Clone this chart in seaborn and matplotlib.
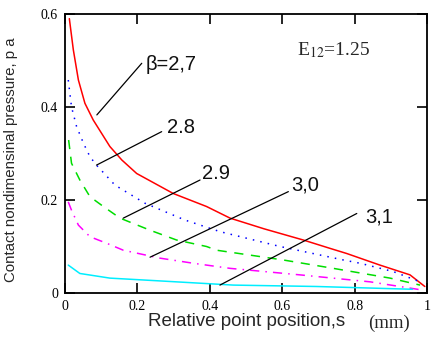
import matplotlib
matplotlib.use("Agg")
import matplotlib.pyplot as plt
import seaborn as sns
import pandas as pd

# Data
s_27 = [0.012, 0.023, 0.037, 0.055, 0.078, 0.124, 0.157, 0.198, 0.299, 0.391, 0.456, 0.55, 0.658, 0.732, 0.778, 0.870, 0.953, 0.994]
p_27 = [0.590, 0.523, 0.458, 0.408, 0.372, 0.315, 0.286, 0.257, 0.214, 0.186, 0.161, 0.138, 0.114, 0.096, 0.085, 0.060, 0.039, 0.014]

s_28 = [0.009, 0.018, 0.032, 0.051, 0.069, 0.087, 0.138, 0.221, 0.331, 0.428, 0.594, 0.769, 0.815, 0.907, 0.981]
p_28 = [0.458, 0.400, 0.358, 0.322, 0.293, 0.275, 0.232, 0.193, 0.157, 0.132, 0.100, 0.071, 0.064, 0.046, 0.024]

s_29 = [0.010, 0.018, 0.041, 0.069, 0.106, 0.152, 0.235, 0.308, 0.391, 0.419, 0.603, 0.741, 0.898, 0.981]
p_29 = [0.329, 0.279, 0.243, 0.207, 0.186, 0.161, 0.135, 0.114, 0.100, 0.092, 0.071, 0.053, 0.032, 0.017]

s_30 = [0.009, 0.018, 0.037, 0.069, 0.115, 0.161, 0.262, 0.354, 0.456, 0.649, 0.843, 0.990]
p_30 = [0.196, 0.178, 0.146, 0.121, 0.107, 0.092, 0.075, 0.064, 0.053, 0.039, 0.024, 0.006]

s_31 = [0.009, 0.041, 0.124, 0.262, 0.465, 0.695, 0.960]
p_31 = [0.060, 0.042, 0.032, 0.026, 0.017, 0.014, 0.008]

series_names = ["2,7", "2.8", "2.9", "3,0", "3,1"]
series_s = [s_27, s_28, s_29, s_30, s_31]
series_p = [p_27, p_28, p_29, p_30, p_31]
colors = ["#ff0000", "#0000ff", "#00dd00", "#ff00ff", "#00eeff"]
styles = ["-", (0, (1, 4)), (0, (6, 5)), (0, (6, 4, 1, 4)), "-"]

# annotation leader lines (start on curve, end near label) and label positions
leader_start_s = [0.088, 0.087, 0.161, 0.235, 0.428]
leader_start_p = [0.383, 0.275, 0.161, 0.077, 0.017]
leader_end_s = [0.212, 0.267, 0.373, 0.617, 0.806]
leader_end_p = [0.494, 0.347, 0.243, 0.218, 0.171]
label_texts = ["\u03b2=2,7", "2.8", "2.9", "3,0", "3,1"]
label_s = [0.222, 0.283, 0.378, 0.625, 0.830]
label_p = [0.492, 0.355, 0.258, 0.232, 0.163]

x_ticks = [0, 0.2, 0.4, 0.6, 0.8, 1]
x_ticklabels = ["0", "0.2", "0.4", "0.6", "0.8", "1"]
y_ticks = [0, 0.2, 0.4, 0.6]
y_ticklabels = ["0", "0.2", "0.4", "0.6"]

sns.set_style("white")

fig = plt.figure(figsize=(4.33, 3.47), dpi=100)
ax = fig.add_axes([65 / 433, 1 - 293 / 347, 362 / 433, 279 / 347])

for name, xs, ys, c, ls in zip(series_names, series_s, series_p, colors, styles):
    df = pd.DataFrame({"s": xs, "p": ys})
    sns.lineplot(data=df, x="s", y="p", ax=ax, color=c, linestyle=ls, linewidth=1.1,
                 estimator=None, sort=True)

for x0, y0, x1, y1 in zip(leader_start_s, leader_start_p, leader_end_s, leader_end_p):
    ax.plot([x0, x1], [y0, y1], color="black", linewidth=0.9)

for t, x, y in zip(label_texts, label_s, label_p):
    ax.text(x, y, t, fontsize=14.5, family="Liberation Sans", ha="left", va="center",
            color="#111111", fontweight="light")

ax.text(0.64, 0.523, r"E$_{12}$=1.25", fontsize=14, family="Liberation Serif",
        ha="left", va="center", math_fontfamily="stix")

ax.set_xlim(0, 1)
ax.set_ylim(0, 0.6)
ax.set_xticks(x_ticks)
ax.set_xticklabels(x_ticklabels, family="Liberation Serif", fontsize=10)
ax.set_yticks(y_ticks)
ax.set_yticklabels(y_ticklabels, family="Liberation Serif", fontsize=10)
ax.tick_params(direction="in", length=7.5, width=1.2, top=True, right=True,
               bottom=True, left=True, colors="black", pad=5)
for sp in ax.spines.values():
    sp.set_color("black")
    sp.set_linewidth(1.3)

ax.set_xlabel("")
ax.set_ylabel("")
fig.text(11 / 433, 1 - 160 / 347, "Contact nondimensinal pressure, p a", family="Liberation Sans",
         fontsize=10.8, rotation=90, ha="center", va="center")
fig.text(247 / 433, 1 - 322 / 347, "Relative point position,s", family="Liberation Sans",
         fontsize=13.5, ha="center", va="center")
fig.text(389 / 433, 1 - 323 / 347, "(mm)", family="Liberation Serif",
         fontsize=13.5, ha="center", va="center")

fig.savefig("out.png", dpi=100)
